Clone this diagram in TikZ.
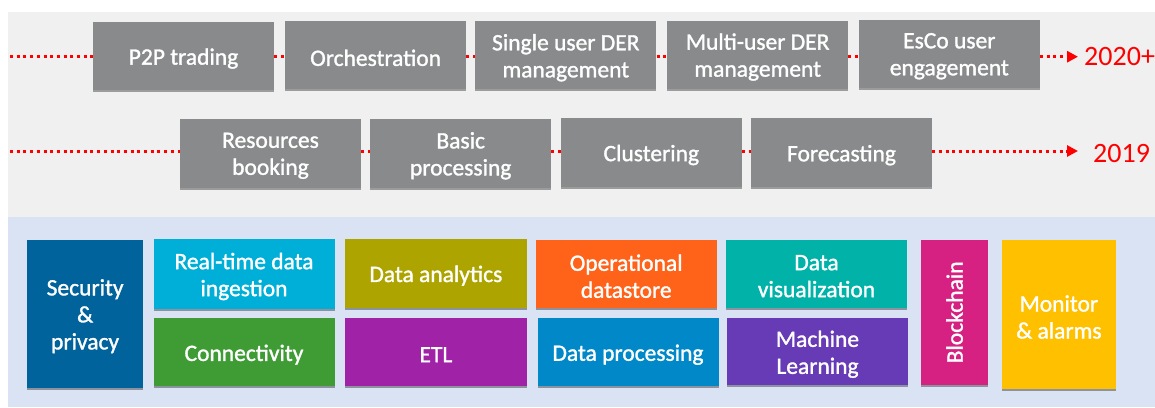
\documentclass[tikz,border=0pt]{standalone}
\usepackage{fontspec}
\setmainfont{Carlito}
\newfontfamily\boxfont{Carlito}[FakeBold=1.3]
\usetikzlibrary{arrows.meta,shadows}
\definecolor{panelgray}{HTML}{F0F0F0}
\definecolor{panelblue}{HTML}{DAE3F3}
\definecolor{boxgray}{HTML}{888A8B}
\definecolor{cSec}{HTML}{00639C}
\definecolor{cRT}{HTML}{00AFD7}
\definecolor{cConn}{HTML}{3F9C35}
\definecolor{cDA}{HTML}{ADA400}
\definecolor{cETL}{HTML}{A022A6}
\definecolor{cOps}{HTML}{FF631A}
\definecolor{cDP}{HTML}{0088C8}
\definecolor{cDV}{HTML}{00B2A8}
\definecolor{cML}{HTML}{673AB6}
\definecolor{cBC}{HTML}{D62182}
\definecolor{cMon}{HTML}{FFC000}
\definecolor{tred}{HTML}{FF0000}
\tikzset{
  boxtext/.style={inner sep=0pt, align=center, text=white, yshift=-2.5pt,
    font=\boxfont\fontsize{23.5}{27}\selectfont},
  tbox/.style={draw=none, inner sep=0pt,
    drop shadow={shadow xshift=0pt, shadow yshift=-2pt, opacity=0.35, fill=black}},
  txt/.style={label={[boxtext]center:#1}},
  gbox/.style={tbox, fill=boxgray, minimum width=181pt, minimum height=68pt},
  cbox/.style={tbox, fill=#1},
  tline/.style={draw=tred, line width=3pt, dash pattern=on 3pt off 3.7pt},
  yearlbl/.style={text=tred, font=\fontsize{28}{30}\selectfont, inner sep=0pt, anchor=base west}
}
\begin{document}
\begin{tikzpicture}[x=1pt,y=-1pt]
\useasboundingbox (0,0) rectangle (1155,407);
\fill[panelgray] (8,12) rectangle (1155,217);
\fill[panelblue] (8,217) rectangle (1155,407);

% top row (2020+)
\coordinate (s1) at (10,56.7);
\coordinate (e1) at (1078,56.7);
\node[gbox, txt={P2P trading}] (p2p) at (183.5,56) {};
\node[gbox, txt={Orchestration}] (orch) at (375.6,55.3) {};
\node[gbox, txt={Single user DER\\management}] (single) at (565.8,55.2) {};
\node[gbox, txt={Multi-user DER\\management}] (multi) at (757.7,54.5) {};
\node[gbox, txt={EsCo user\\engagement}] (esco) at (949.3,53.7) {};
\node[yearlbl] (y2020) at (1084,65.7) {2020+};

\draw[tline] (s1) -- (p2p.west |- s1);
\draw[tline] (p2p.east |- s1) -- (orch.west |- s1);
\draw[tline] (orch.east |- s1) -- (single.west |- s1);
\draw[tline] (single.east |- s1) -- (multi.west |- s1);
\draw[tline] (multi.east |- s1) -- (esco.west |- s1);
\draw[tline, -{Triangle[length=11pt,width=11pt]}] (esco.east |- s1) -- (e1);

% second row (2019)
\coordinate (s2) at (10,151);
\coordinate (e2) at (1078,151);
\node[gbox, minimum height=69pt, txt={Resources\\booking}] (res) at (270.5,153.3) {};
\node[gbox, minimum height=69pt, txt={Basic\\processing}] (basic) at (460.7,153.3) {};
\node[gbox, minimum height=69pt, txt={Clustering}] (clust) at (651.3,152.5) {};
\node[gbox, minimum height=69pt, txt={Forecasting}] (fore) at (841.5,152.7) {};
\node[yearlbl] (y2019) at (1093,162.7) {2019};

\draw[tline] (s2) -- (res.west |- s2);
\draw[tline] (res.east |- s2) -- (basic.west |- s2);
\draw[tline] (basic.east |- s2) -- (clust.west |- s2);
\draw[tline] (clust.east |- s2) -- (fore.west |- s2);
\draw[tline, -{Triangle[length=11pt,width=11pt]}] (fore.east |- s2) -- (e2);

% bottom platform blocks
\node[cbox=cSec, minimum width=115.4pt, minimum height=148pt, txt={Security\\\&\\privacy}] (sec) at (85.1,313.7) {};
\node[cbox=cRT, minimum width=181pt, minimum height=70.6pt, txt={Real-time data\\ingestion}] (rt) at (244,274) {};
\node[cbox=cConn, minimum width=181pt, minimum height=67.7pt, txt={Connectivity}] (conn) at (244,352.2) {};
\node[cbox=cDA, minimum width=181.3pt, minimum height=69pt, txt={Data analytics}] (da) at (435.9,273.2) {};
\node[cbox=cETL, minimum width=181.3pt, minimum height=67.7pt, txt={ETL}] (etl) at (435.9,352.2) {};
\node[cbox=cOps, minimum width=181pt, minimum height=68pt, txt={Operational\\datastore}] (ops) at (626.2,273.7) {};
\node[cbox=cDP, minimum width=181pt, minimum height=67.7pt, txt={Data processing}] (dp) at (628,352.2) {};
\node[cbox=cDV, minimum width=181pt, minimum height=68pt, txt={Data\\visualization}] (dv) at (816.5,273.7) {};
\node[cbox=cML, minimum width=181pt, minimum height=67pt, txt={Machine\\Learning}] (ml) at (817.5,351.7) {};
\node[cbox=cBC, minimum width=66.6pt, minimum height=145.3pt] (bc) at (954.6,312.4) {};
\node[boxtext, rotate=90, yshift=0pt, xshift=2.5pt] (bctext) at (bc.center) {Blockchain};
\node[cbox=cMon, minimum width=114.6pt, minimum height=149pt, txt={Monitor\\\& alarms}] (mon) at (1058.9,314.5) {};
\end{tikzpicture}
\end{document}
